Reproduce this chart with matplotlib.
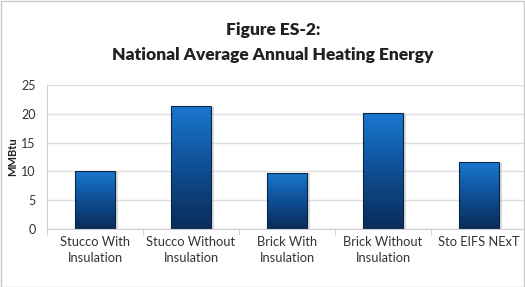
import matplotlib.pyplot as plt
import numpy as np
from matplotlib.colors import LinearSegmentedColormap
from matplotlib.patches import Rectangle

# data
categories = ["Stucco With\nInsulation", "Stucco Without\nInsulation", "Brick With\nInsulation",
              "Brick Without\nInsulation", "Sto EIFS NExT"]
heating_mmbtu = [10.1, 21.4, 9.8, 20.2, 11.6]
y_ticks = [0, 5, 10, 15, 20, 25]

plt.rcParams['font.family'] = ['Lato', 'DejaVu Sans']

fig = plt.figure(figsize=(5.25, 2.87), dpi=100)
ax = fig.add_axes([47 / 525, 58 / 287, 480 / 525, 144 / 287])

x = np.arange(len(categories))
bars = ax.bar(x, heating_mmbtu, width=0.41, color='none', edgecolor='#0b2440',
              linewidth=0.8, zorder=3)

# vertical gradient fill, bright blue on top to navy at the bottom
cmap = LinearSegmentedColormap.from_list('bluegrad', ['#0a2c58', '#0f4f95', '#1a78d0'])
grad = np.linspace(0, 1, 256).reshape(-1, 1)
for b in bars:
    bx, by = b.get_x(), b.get_y()
    w, h = b.get_width(), b.get_height()
    # soft shadow
    ax.add_patch(Rectangle((bx + 0.03, by), w, h - 0.15, color='#b9b9b9', alpha=0.5,
                           zorder=1.5, lw=0))
    im = ax.imshow(grad, extent=[bx, bx + w, by, by + h], origin='lower', cmap=cmap,
                   aspect='auto', zorder=2)
    im.set_clip_path(b)

ax.set_xlim(-0.5, 4.5)
ax.set_ylim(0, 25)
ax.set_yticks(y_ticks)
ax.set_xticks(x)
ax.set_xticklabels(categories, fontsize=9.3, color='#333333', linespacing=1.45)
ax.tick_params(axis='y', labelsize=9, colors='#333333', length=0, pad=8)
ax.tick_params(axis='x', length=0, pad=5)
ax.set_xticks(np.arange(-0.5, 5, 1), minor=True)
ax.tick_params(axis='x', which='minor', length=4, color='#d0d0d0')
ax.grid(axis='y', color='#dedede', linewidth=1, zorder=0)
ax.set_axisbelow(True)
for s in ['top', 'right']:
    ax.spines[s].set_visible(False)
ax.spines['left'].set_color('#d0d0d0')
ax.spines['bottom'].set_color('#d0d0d0')
ax.set_ylabel('MMBtu', fontsize=8, color='#222222', fontweight='bold', labelpad=2)

fig.text(0.52, 0.895, 'Figure ES-2:', ha='center', va='center', fontsize=12.5,
         fontweight='heavy', color='#222222')
fig.text(0.52, 0.81, 'National Average Annual Heating Energy', ha='center', va='center',
         fontsize=12.5, fontweight='heavy', color='#222222')

# thin frame around the picture
fig.patches.append(Rectangle((0.002, 0.0), 0.996, 0.995, transform=fig.transFigure,
                             fill=False, edgecolor='#c8c8c8', linewidth=1))

fig.savefig('out.png', dpi=100)
